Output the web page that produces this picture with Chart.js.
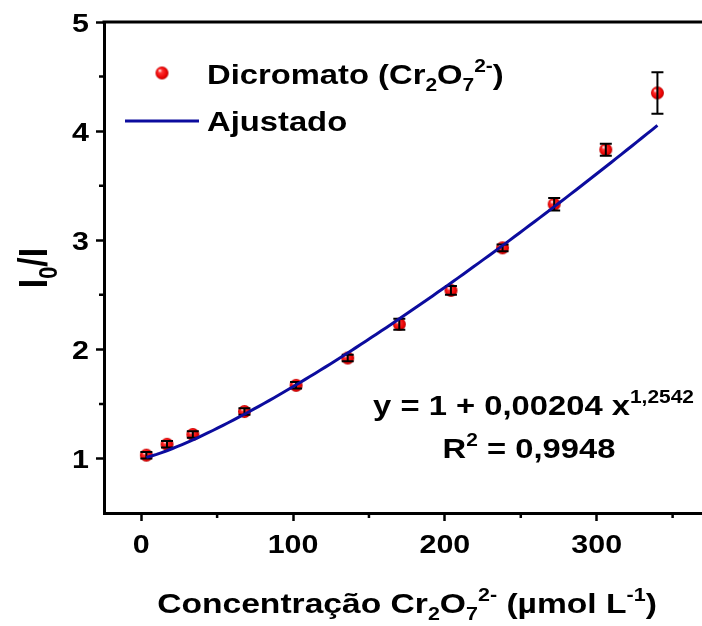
<!DOCTYPE html>
<html>
<head>
<meta charset="utf-8">
<script src="https://cdn.jsdelivr.net/npm/chart.js@4.4.1/dist/chart.umd.min.js"></script>
<style>
  html, body { margin: 0; padding: 0; background: #fff; overflow: hidden; }
  #wrap { width: 702px; height: 626px; overflow: hidden; }
</style>
</head>
<body>
<div id="wrap"><canvas id="grafico" width="712" height="626"></canvas></div>
<script>
// concentração (µmol/L), razão I0/I e desvio
const concentracao = [3.4, 17, 34, 68, 102, 136, 170, 204, 238, 272, 306, 340];
const razaoI0I = [1.03, 1.13, 1.22, 1.43, 1.67, 1.92, 2.23, 2.54, 2.93, 3.33, 3.83, 4.35];
const desvio = [0.03, 0.03, 0.03, 0.03, 0.03, 0.03, 0.05, 0.04, 0.03, 0.057, 0.055, 0.19];

// parâmetros do ajuste y = 1 + a x^b
const coefA = 0.00204;
const coefB = 1.2542;

const xTicks = [0, 100, 200, 300];
const xMinor = [50, 150, 250, 350];
const yTicks = [1, 2, 3, 4, 5];
const yMinor = [1.5, 2.5, 3.5, 4.5];

const FONTE = '"Liberation Sans", Arial, sans-serif';
const AZUL = '#0c0c9e';
const ESTICA = 1.17; // letras um pouco mais largas

// curva ajustada
const ajuste = [];
for (let i = 0; i <= 100; i++) {
  const x = concentracao[0] + (concentracao[concentracao.length - 1] - concentracao[0]) * i / 100;
  ajuste.push({ x: x, y: 1 + coefA * Math.pow(x, coefB) });
}

// bolinha vermelha com brilho
function esfera(r) {
  const c = document.createElement('canvas');
  c.width = c.height = r * 2 + 2;
  const g = c.getContext('2d');
  const cx = r + 1, cy = r + 1;
  const grad = g.createRadialGradient(cx - r * 0.35, cy - r * 0.4, r * 0.1, cx, cy, r);
  grad.addColorStop(0, '#ffd8d8');
  grad.addColorStop(0.25, '#ff3030');
  grad.addColorStop(0.8, '#e80000');
  grad.addColorStop(1, '#b00000');
  g.fillStyle = grad;
  g.beginPath();
  g.arc(cx, cy, r, 0, Math.PI * 2);
  g.fill();
  return c;
}
const marcador = esfera(6.5);

// texto com sub/sobrescrito: partes = [[texto, 'n'|'sub'|'sup'], ...]
function larguraRica(ctx, partes, tam) {
  let w = 0;
  partes.forEach(p => {
    const s = p[1] === 'n' ? tam : tam * 0.64;
    ctx.font = 'bold ' + s + 'px ' + FONTE;
    w += ctx.measureText(p[0]).width;
  });
  return w;
}
function textoRico(ctx, x, y, partes, tam, alinh, sx) {
  sx = sx || ESTICA;
  const w = larguraRica(ctx, partes, tam) * sx;
  let x0 = x;
  if (alinh === 'center') x0 = x - w / 2;
  if (alinh === 'right') x0 = x - w;
  ctx.save();
  ctx.translate(x0, y);
  ctx.scale(sx, 1);
  ctx.textAlign = 'left';
  ctx.textBaseline = 'alphabetic';
  ctx.fillStyle = '#000';
  let px = 0;
  partes.forEach(p => {
    let s = tam, dy = 0;
    if (p[1] === 'sub') { s = tam * 0.64; dy = tam * 0.24; }
    if (p[1] === 'sup') { s = tam * 0.64; dy = -tam * 0.42; }
    ctx.font = 'bold ' + s + 'px ' + FONTE;
    ctx.fillText(p[0], px, dy);
    px += ctx.measureText(p[0]).width;
  });
  ctx.restore();
}

const decoracao = {
  id: 'decoracao',
  afterDatasetDraw(chart, args) {
    if (args.index !== 0) return;
    // barras de erro
    const ctx = chart.ctx, xs = chart.scales.x, ys = chart.scales.y;
    ctx.save();
    ctx.strokeStyle = '#000';
    ctx.lineWidth = 2;
    concentracao.forEach((c, i) => {
      const px = xs.getPixelForValue(c);
      const y1 = ys.getPixelForValue(razaoI0I[i] + desvio[i]);
      const y2 = ys.getPixelForValue(razaoI0I[i] - desvio[i]);
      ctx.beginPath();
      ctx.moveTo(px, y1); ctx.lineTo(px, y2);
      ctx.moveTo(px - 6, y1); ctx.lineTo(px + 6, y1);
      ctx.moveTo(px - 6, y2); ctx.lineTo(px + 6, y2);
      ctx.stroke();
    });
    ctx.restore();
  },
  afterDraw(chart) {
    const ctx = chart.ctx, a = chart.chartArea, xs = chart.scales.x, ys = chart.scales.y;
    ctx.save();
    // bordas superior e inferior até a margem direita
    ctx.strokeStyle = '#000';
    ctx.lineWidth = 3;
    ctx.beginPath();
    ctx.moveTo(a.left - 1.5, a.top);
    ctx.lineTo(chart.width, a.top);
    ctx.moveTo(a.right - 2, a.bottom);
    ctx.lineTo(chart.width, a.bottom);
    ctx.stroke();
    // ticks menores
    ctx.lineWidth = 2.5;
    ctx.beginPath();
    xMinor.forEach(v => {
      const px = xs.getPixelForValue(v);
      ctx.moveTo(px, a.bottom); ctx.lineTo(px, a.bottom + 5);
    });
    yMinor.forEach(v => {
      const py = ys.getPixelForValue(v);
      ctx.moveTo(a.left, py); ctx.lineTo(a.left - 5, py);
    });
    ctx.stroke();

    // rótulos dos ticks
    xTicks.forEach(v => textoRico(ctx, xs.getPixelForValue(v), a.bottom + 40, [[String(v), 'n']], 26, 'center'));
    yTicks.forEach(v => textoRico(ctx, a.left - 15, ys.getPixelForValue(v) + 9.5, [[String(v), 'n']], 26, 'right'));

    // legenda
    ctx.drawImage(marcador, 162 - marcador.width / 2, 73 - marcador.height / 2);
    ctx.strokeStyle = AZUL;
    ctx.lineWidth = 3;
    ctx.beginPath();
    ctx.moveTo(125, 121); ctx.lineTo(199, 121);
    ctx.stroke();
    textoRico(ctx, 207, 84, [['Dicromato (Cr', 'n'], ['2', 'sub'], ['O', 'n'], ['7', 'sub'], ['2-', 'sup'], [')', 'n']], 28, 'left');
    textoRico(ctx, 207, 131, [['Ajustado', 'n']], 28, 'left');

    // equação do ajuste
    textoRico(ctx, 694, 415, [['y = 1 + 0,00204 x', 'n'], ['1,2542', 'sup']], 28, 'right');
    textoRico(ctx, 529, 458, [['R', 'n'], ['2', 'sup'], [' = 0,9948', 'n']], 28, 'center');

    // títulos dos eixos
    textoRico(ctx, 407, 613, [['Concentração Cr', 'n'], ['2', 'sub'], ['O', 'n'], ['7', 'sub'], ['2-', 'sup'], [' (\u00b5mol L', 'n'], ['-1', 'sup'], [')', 'n']], 28, 'center', 1.2);
    ctx.translate(47, 268);
    ctx.rotate(-Math.PI / 2);
    ctx.scale(1, ESTICA);
    textoRico(ctx, 0, 0, [['I', 'n'], ['0', 'sub'], ['/I', 'n']], 34, 'center', 1);
    ctx.restore();
  }
};

new Chart(document.getElementById('grafico'), {
  type: 'scatter',
  data: {
    datasets: [
      {
        label: 'Dicromato',
        data: concentracao.map((c, i) => ({ x: c, y: razaoI0I[i] })),
        pointStyle: marcador,
        pointRadius: 6.5,
        order: 1
      },
      {
        label: 'Ajustado',
        type: 'line',
        data: ajuste,
        borderColor: AZUL,
        borderWidth: 3,
        pointRadius: 0,
        tension: 0,
        fill: false,
        order: 0
      }
    ]
  },
  plugins: [decoracao],
  options: {
    responsive: false,
    animation: false,
    layout: { padding: { top: 22, right: 0, bottom: 0, left: 0 } },
    plugins: { legend: { display: false }, tooltip: { enabled: false } },
    scales: {
      x: {
        type: 'linear',
        min: -24.5,
        max: 371,
        afterBuildTicks: s => { s.ticks = xTicks.map(v => ({ value: v })); },
        afterFit: s => { s.height = 113; },
        grid: { display: true, drawOnChartArea: false, tickLength: 8, tickWidth: 2.5, tickColor: '#000' },
        border: { color: '#000', width: 3 },
        ticks: { display: false }
      },
      y: {
        min: 0.5,
        max: 5,
        afterBuildTicks: s => { s.ticks = yTicks.map(v => ({ value: v })); },
        afterFit: s => { s.width = 104; },
        grid: { display: true, drawOnChartArea: false, tickLength: 8, tickWidth: 2.5, tickColor: '#000' },
        border: { color: '#000', width: 3 },
        ticks: { display: false }
      }
    }
  }
});
</script>
</body>
</html>
